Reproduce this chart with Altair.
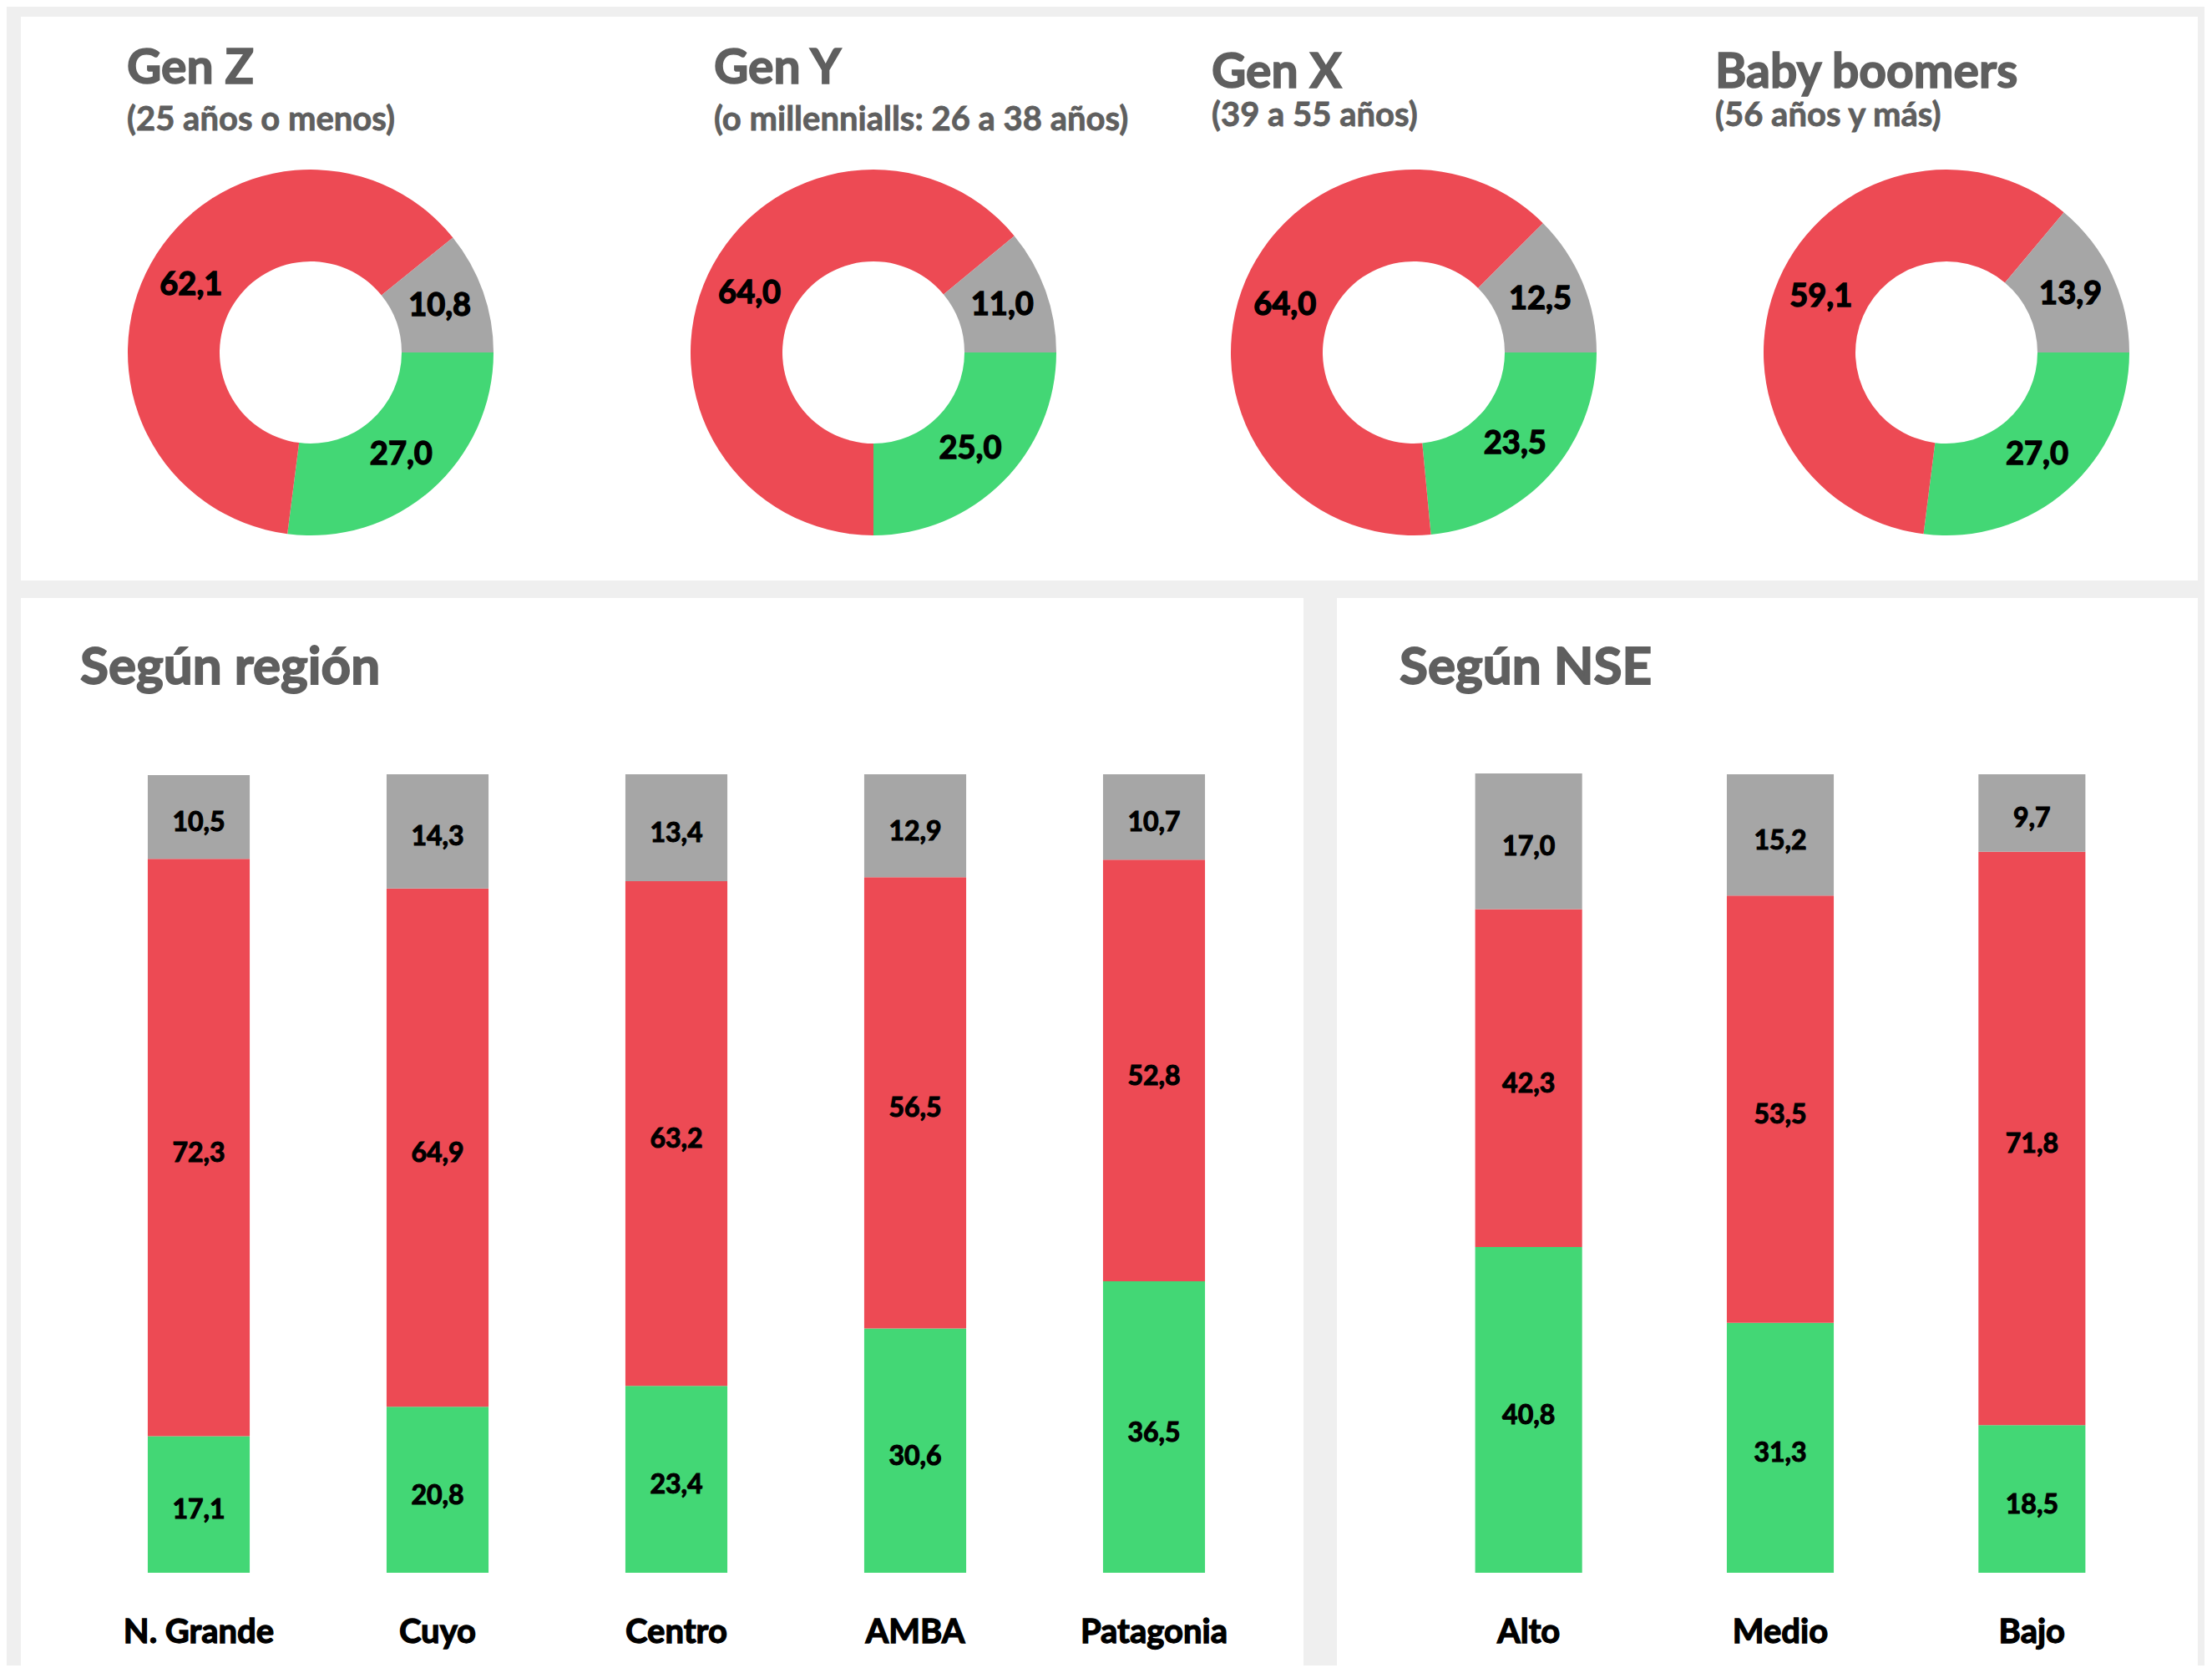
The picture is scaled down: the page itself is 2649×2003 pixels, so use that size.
import math
import altair as alt
import pandas as pd

# ---------------- data ----------------
gens = ["Gen Z", "Gen Y", "Gen X", "Baby boomers"]
gen_sub = ["(25 años o menos)", "(o millennialls: 26 a 38 años)", "(39 a 55 años)", "(56 años y más)"]
gen_green = [27.0, 25.0, 23.5, 27.0]
gen_red = [62.1, 64.0, 64.0, 59.1]
gen_gray = [10.8, 11.0, 12.5, 13.9]

regions = ["N. Grande", "Cuyo", "Centro", "AMBA", "Patagonia"]
reg_green = [17.1, 20.8, 23.4, 30.6, 36.5]
reg_red = [72.3, 64.9, 63.2, 56.5, 52.8]
reg_gray = [10.5, 14.3, 13.4, 12.9, 10.7]

nse = ["Alto", "Medio", "Bajo"]
nse_green = [40.8, 31.3, 18.5]
nse_red = [42.3, 53.5, 71.8]
nse_gray = [17.0, 15.2, 9.7]

panel_titles = ["Según región", "Según NSE"]

seg_names = ["verde", "rojo", "gris"]          # stacking order
seg_colors = ["#43d775", "#ed4a54", "#a6a6a6"]

# ---------------- styles / layout ----------------
FONT = "Lato"
TITLE_COLOR = "#5f5f5f"
LABEL_EXPR = "replace(format(datum.value, '.1f'), '.', ',')"

donut_w = [675, 660, 630, 642]
donut_cx = [347, 346, 333, 341]
title_x = [127, 155, 91, 64]
title_y = [80, 80, 85, 85]
sub_y = [136, 136, 131, 131]
TOP_H = 675
BOT_H = 1278

color_enc = alt.Color("seg:N", scale=alt.Scale(domain=seg_names, range=seg_colors), legend=None)


def donut(i):
    df = pd.DataFrame({
        "seg": seg_names,
        "value": [gen_green[i], gen_red[i], gen_gray[i]],
        "order": [0, 1, 2],
    })
    theta = alt.Theta("value:Q", stack=True,
                      scale=alt.Scale(range=[math.pi / 2, math.pi / 2 + 2 * math.pi]))
    base = alt.Chart(df).encode(
        theta=theta,
        order=alt.Order("order:Q"),
        x=alt.value(donut_cx[i]),
        y=alt.value(402),
    )
    arcs = base.mark_arc(radius=219, radius2=109).encode(color=color_enc)
    labels = base.transform_calculate(label=LABEL_EXPR).mark_text(
        radius=164, font=FONT, fontSize=38, fontWeight="bold", color="black",
        stroke="black", strokeWidth=1.4,
        align="center", baseline="middle"
    ).encode(text="label:N")
    ttl = alt.Chart(pd.DataFrame({"t": [gens[i]]})).mark_text(
        font=FONT, fontSize=57, fontWeight="bold", color=TITLE_COLOR,
        stroke=TITLE_COLOR, strokeWidth=1.6,
        align="left", baseline="alphabetic"
    ).encode(text="t:N", x=alt.value(title_x[i]), y=alt.value(title_y[i]))
    sub = alt.Chart(pd.DataFrame({"t": [gen_sub[i]]})).mark_text(
        font=FONT, fontSize=40, fontWeight="bold", color=TITLE_COLOR,
        stroke=TITLE_COLOR, strokeWidth=0.8,
        align="left", baseline="alphabetic"
    ).encode(text="t:N", x=alt.value(title_x[i]), y=alt.value(sub_y[i]))
    return alt.layer(arcs, labels, ttl, sub).properties(width=donut_w[i], height=TOP_H)


def bars(cats, green, red, gray, width, xrange, pin, pout, title, tx):
    rows = []
    for c, g, r, s in zip(cats, green, red, gray):
        rows.append({"cat": c, "seg": "verde", "value": g, "order": 0})
        rows.append({"cat": c, "seg": "rojo", "value": r, "order": 1})
        rows.append({"cat": c, "seg": "gris", "value": s, "order": 2})
    df = pd.DataFrame(rows)
    xs = alt.X("cat:N", axis=None,
               scale=alt.Scale(domain=cats, range=xrange, paddingInner=pin, paddingOuter=pout))
    ys = alt.Scale(domain=[0, 100], range=[1167, 211])
    bar = alt.Chart(df).mark_bar().encode(
        x=xs,
        y=alt.Y("value:Q", stack="zero", scale=ys, axis=None),
        color=color_enc,
        order=alt.Order("order:Q"),
    )
    txt = alt.Chart(df).transform_stack(
        stack="value", groupby=["cat"], as_=["v0", "v1"],
        sort=[alt.SortField("order", order="ascending")]
    ).transform_calculate(
        mid="(datum.v0 + datum.v1) / 2", label=LABEL_EXPR
    ).mark_text(
        font=FONT, fontSize=32, fontWeight="bold", color="black",
        stroke="black", strokeWidth=1.1, dy=7,
        align="center", baseline="middle"
    ).encode(x=xs, y=alt.Y("mid:Q", scale=ys, axis=None), text="label:N")
    catlab = alt.Chart(pd.DataFrame({"cat": cats})).mark_text(
        font=FONT, fontSize=40, fontWeight="bold", color="black",
        stroke="black", strokeWidth=1.3,
        align="center", baseline="middle"
    ).encode(x=xs, y=alt.value(1239), text="cat:N")
    ttl = alt.Chart(pd.DataFrame({"t": [title]})).mark_text(
        font=FONT, fontSize=62, fontWeight="bold", color=TITLE_COLOR,
        stroke=TITLE_COLOR, strokeWidth=1.8,
        align="left", baseline="alphabetic"
    ).encode(text="t:N", x=alt.value(tx), y=alt.value(103))
    return alt.layer(bar, txt, catlab, ttl).properties(width=width, height=BOT_H)


top = alt.hconcat(*[donut(i) for i in range(4)], spacing=0)
reg_chart = bars(regions, reg_green, reg_red, reg_gray, 1536, [70, 1500], 0.573, 0.2865,
                 panel_titles[0], 71)
nse_chart = bars(nse, nse_green, nse_red, nse_gray, 1031, [79, 983], 0.575, 0.2874,
                 panel_titles[1], 75)
bottom = alt.hconcat(reg_chart, nse_chart, spacing=40)

chart = alt.vconcat(top, bottom, spacing=21).properties(
    background="#efefef",
    padding={"left": 17, "top": 12, "right": 8, "bottom": 0},
).configure_view(fill="white", strokeWidth=0)

chart.save("out.html", embed_options={"renderer": "svg", "actions": False})
